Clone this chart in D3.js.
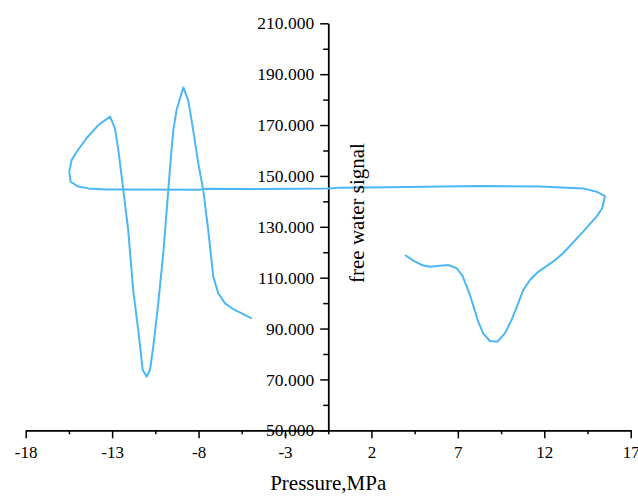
<!DOCTYPE html>
<html>
<head>
<meta charset="utf-8">
<script src="https://cdn.jsdelivr.net/npm/d3@7"></script>
<style>
  body { margin: 0; background: #fff; }
  .axis text { font-family: "Liberation Serif", "Times New Roman", serif; fill: #000; }
  .axis path, .axis line { stroke: #000; stroke-width: 1.5; }
  .axisTitle { font-family: "Liberation Serif", "Times New Roman", serif; font-size: 21px; fill: #000; }
</style>
</head>
<body>
<div id="chart"></div>
<script>
// data (one continuous trace)
var pressure = [3.94, 4.42, 4.90, 5.38, 5.96, 6.44, 6.93, 7.27, 7.70, 8.18, 8.47, 8.85, 9.28, 9.72,
  10.11, 10.49, 10.78, 11.17, 11.65, 12.51, 13.09, 14.25, 15.02, 15.35, 15.51, 15.02, 14.25,
  11.75, 8.28, 3.07, 0.18, -0.52, -4.45, -7.55, -7.92, -12.26, -13.32, -14.38, -14.96, -15.40,
  -15.48, -15.34, -15.05, -14.47, -13.80, -13.12, -12.84, -12.64, -12.36, -12.07, -11.78, -11.49,
  -11.23, -11.00, -10.81, -10.62, -10.33, -10.04, -9.75, -9.60, -9.46, -9.27, -8.88, -8.60,
  -8.31, -8.02, -7.73, -7.44, -7.15, -6.86, -6.47, -5.99, -4.93];
var signal = [118.9, 116.7, 115.0, 114.3, 114.7, 115.0, 113.7, 110.7, 103.2, 92.7, 88.1, 85.1, 84.8, 88.1,
  93.4, 99.9, 105.1, 109.1, 112.3, 116.3, 119.6, 128.1, 134.0, 137.3, 142.1, 143.8, 145.1,
  145.8, 146.0, 145.5, 145.4, 145.1, 144.9, 145.0, 144.6, 144.7, 144.7, 145.1, 145.8, 147.7,
  151.7, 156.3, 159.5, 164.9, 170.0, 173.3, 168.8, 160.2, 144.9, 128.7, 105.1, 89.4,
  73.7, 71.1, 73.7, 82.9, 100.0, 119.7, 144.5, 157.5, 168.0, 175.9, 184.8, 179.8,
  168.0, 155.1, 144.5, 128.7, 110.4, 103.9, 99.9, 97.6, 94.0];

var xTicks = [-18, -13, -8, -3, 2, 7, 12, 17];
var yTicks = [50, 70, 90, 110, 130, 150, 170, 190, 210];

var svgWidth = 638;
var svgHeight = 496;

var svg = d3.select("#chart")
  .append("svg")
  .attr("width", svgWidth)
  .attr("height", svgHeight);

var xScale = d3.scaleLinear()
  .domain([-18, 17])
  .range([25.7, 630.7]);

var yScale = d3.scaleLinear()
  .domain([50, 210])
  .range([430.3, 23.3]);

// y axis crosses the x axis at -0.5
var yAxisX = xScale(-0.5);

// minor ticks halfway between the labelled ones
var xMinor = xTicks.slice(0, -1).map(d => d + 2.5);
var yMinor = yTicks.slice(0, -1).map(d => d + 10);

svg.append("g")
  .attr("class", "axis")
  .attr("transform", `translate(0, ${yScale(50)})`)
  .call(d3.axisBottom(xScale).tickValues(xMinor).tickSize(4).tickFormat("").tickSizeOuter(0));

svg.append("g")
  .attr("class", "axis")
  .attr("transform", `translate(0, ${yScale(50)})`)
  .call(d3.axisBottom(xScale).tickValues(xTicks).tickSize(8).tickPadding(8)
    .tickFormat(d => String(d)).tickSizeOuter(0))
  .selectAll("text")
  .style("font-size", "17px");

svg.append("g")
  .attr("class", "axis")
  .attr("transform", `translate(${yAxisX}, 0)`)
  .call(d3.axisLeft(yScale).tickValues(yMinor).tickSize(5).tickFormat("").tickSizeOuter(0));

svg.append("g")
  .attr("class", "axis")
  .attr("transform", `translate(${yAxisX}, 0)`)
  .call(d3.axisLeft(yScale).tickValues(yTicks).tickSize(8).tickPadding(6)
    .tickFormat(d => d.toFixed(3)).tickSizeOuter(0))
  .selectAll("text")
  .style("font-size", "17.5px");

// the trace
var line = d3.line()
  .x((d, i) => xScale(pressure[i]))
  .y((d, i) => yScale(signal[i]));

svg.append("path")
  .datum(pressure)
  .attr("fill", "none")
  .attr("stroke", "#4db6f6")
  .attr("stroke-width", 2)
  .attr("stroke-linejoin", "round")
  .attr("d", line);

// axis titles
svg.append("text")
  .attr("class", "axisTitle")
  .attr("text-anchor", "middle")
  .attr("x", (xScale(-18) + xScale(17)) / 2)
  .attr("y", 490)
  .text("Pressure,MPa");

svg.append("text")
  .attr("class", "axisTitle")
  .attr("text-anchor", "middle")
  .attr("transform", "translate(364, 213) rotate(-90)")
  .text("free water signal");
</script>
</body>
</html>
